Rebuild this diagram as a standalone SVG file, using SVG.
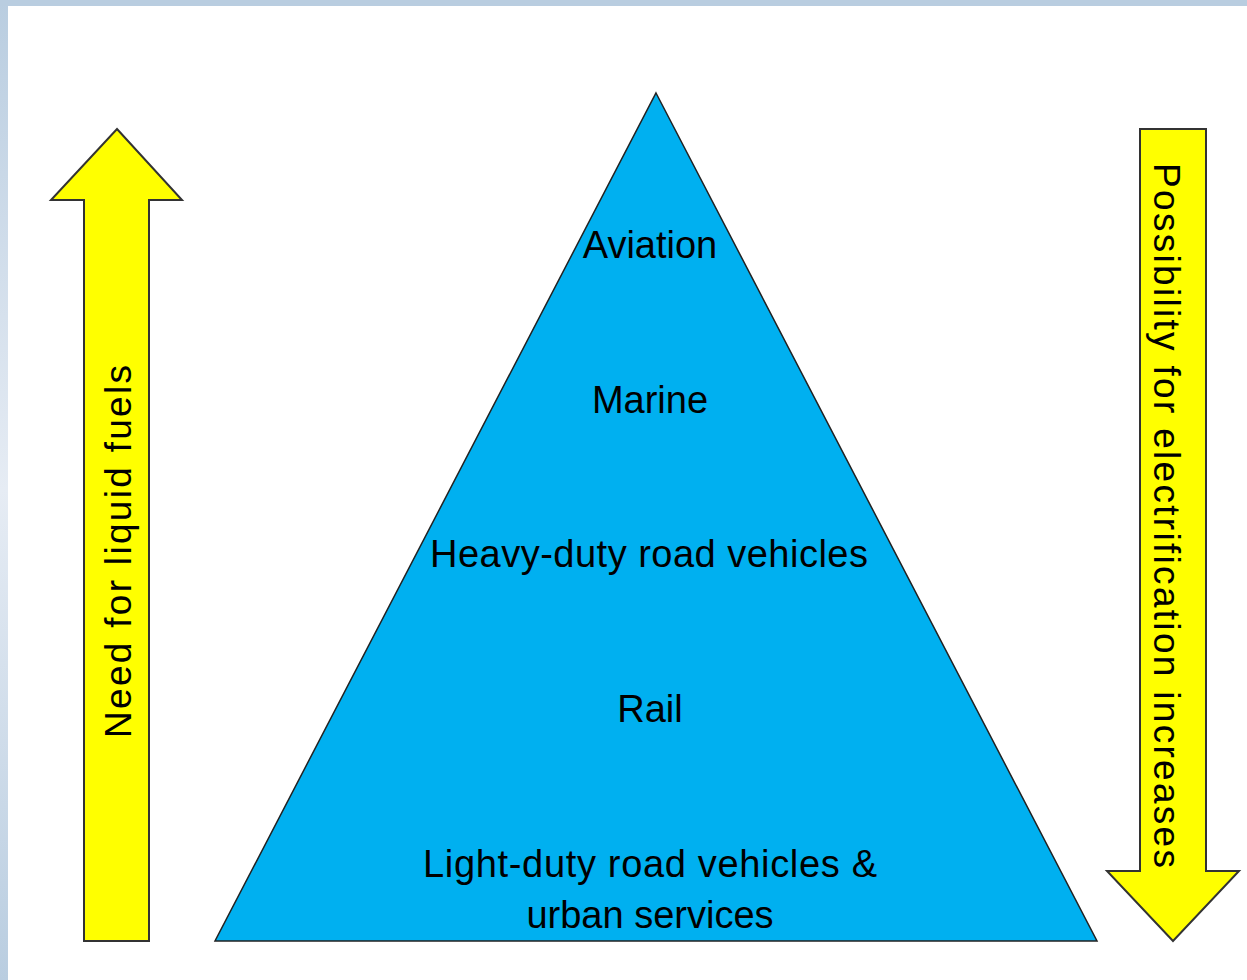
<svg xmlns="http://www.w3.org/2000/svg" width="1247" height="980" viewBox="0 0 1247 980">
<defs>
<linearGradient id="side" x1="0" y1="0" x2="0" y2="1">
<stop offset="0" stop-color="#b9cde0"/>
<stop offset="0.5" stop-color="#e6ecf4"/>
<stop offset="1" stop-color="#b9cde0"/>
</linearGradient>
<style>
.arrow{fill:#ffff00;stroke:#333333;stroke-width:2;stroke-linejoin:miter}
.tri{fill:#00b0f0;stroke:#222222;stroke-width:1.5}
.lbl{font-family:"Liberation Sans",Arial,sans-serif;font-size:38px;fill:#000000;text-anchor:middle}
.vlbl{font-family:"Liberation Sans",Arial,sans-serif;font-size:37px;fill:#000000;text-anchor:middle}
</style>
</defs>
<rect x="0" y="0" width="1247" height="980" fill="#ffffff"/>
<rect x="0" y="0" width="8" height="980" fill="url(#side)"/>
<rect x="0" y="0" width="1247" height="6" fill="#b9cde0"/>
<g id="pyramid">
<polygon class="tri" points="656,93 1097,941 215,941"/>
<text class="lbl" x="650" y="258">Aviation</text>
<text class="lbl" x="650" y="413">Marine</text>
<text class="lbl" x="649" y="567" textLength="438" lengthAdjust="spacing">Heavy-duty road vehicles</text>
<text class="lbl" x="650" y="722">Rail</text>
<text class="lbl" x="650" y="877" textLength="454" lengthAdjust="spacing">Light-duty road vehicles &amp;</text>
<text class="lbl" x="650" y="928">urban services</text>
</g>
<g id="need-arrow">
<polygon class="arrow" points="117,129 182,200 149,200 149,941 84,941 84,200 51,200"/>
<text class="vlbl" transform="translate(131,551.5) rotate(-90)" x="0" y="0" textLength="373" lengthAdjust="spacing">Need for liquid fuels</text>
</g>
<g id="electrification-arrow">
<polygon class="arrow" points="1140,129 1206,129 1206,871 1239,871 1173,941 1107,871 1140,871"/>
<text class="vlbl" transform="translate(1154,515.5) rotate(90)" x="0" y="0" textLength="705" lengthAdjust="spacing">Possibility for electrification increases</text>
</g>
<g id="connectors"/>
</svg>
